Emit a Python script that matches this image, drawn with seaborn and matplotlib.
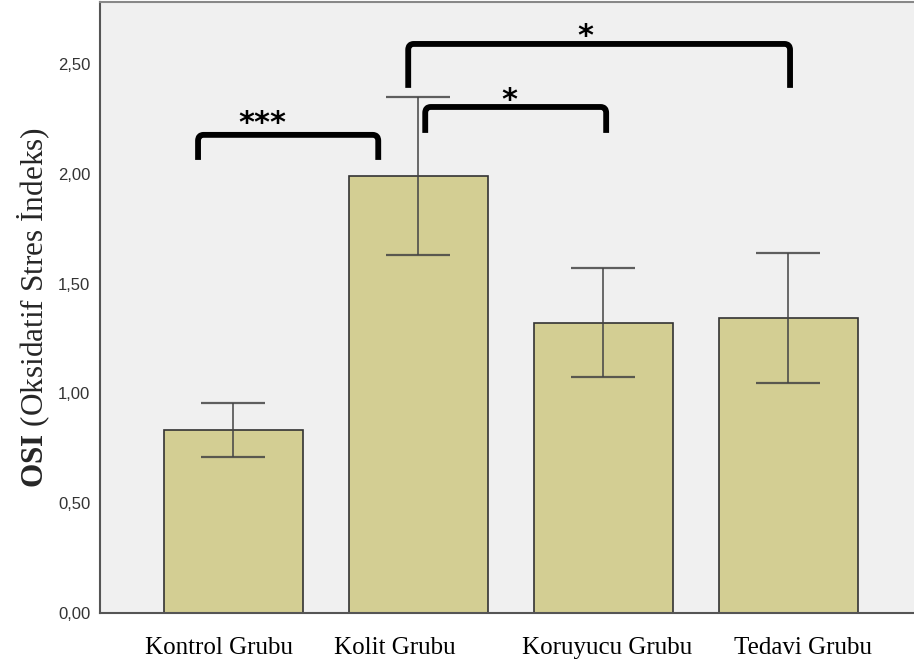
import matplotlib
matplotlib.use("Agg")
import matplotlib.pyplot as plt
import matplotlib.transforms as mtransforms
import seaborn as sns
import pandas as pd
from matplotlib.path import Path
from matplotlib.patches import PathPatch

# Group means and error bar limits for the oxidative stress index
groups = ["Kontrol Grubu", "Kolit Grubu", "Koruyucu Grubu", "Tedavi Grubu"]
osi_mean = [0.833, 1.99, 1.32, 1.343]
err_low = [0.710, 1.63, 1.075, 1.047]
err_high = [0.956, 2.35, 1.571, 1.639]
y_ticks = [0.0, 0.5, 1.0, 1.5, 2.0, 2.5]
y_tick_labels = ["0,00", "0,50", "1,00", "1,50", "2,00", "2,50"]

# Significance brackets: (left end, right end, height, leg depth)
brackets = [
    (-0.19, 0.784, 2.177, 0.114),
    (1.038, 2.016, 2.304, 0.118),
    (0.946, 3.01, 2.591, 0.20),
]
# Significance marks and where they sit above their brackets
sig_labels = ["***", "*", "*"]
sig_x = [0.157, 1.492, 1.903]
sig_y = [2.228, 2.332, 2.624]

# Horizontal nudges (points) of the group names under their ticks
label_shift = [-10, -17, 3, 11]

sns.set_theme(style="white")
plt.rcParams["mathtext.fontset"] = "custom"
plt.rcParams["mathtext.rm"] = "Liberation Serif"
plt.rcParams["mathtext.bf"] = "Liberation Serif:bold"

fig = plt.figure(figsize=(9.14, 6.63), dpi=100)
ax = fig.add_axes([100 / 914, 50 / 663, 814 / 914, 611 / 663])
ax.set_facecolor("#F0F0F0")

df = pd.DataFrame({"group": groups, "osi": osi_mean})
sns.barplot(data=df, x="group", y="osi", color="#D3CE93", saturation=1,
            width=0.75, edgecolor="#333333", linewidth=1.2, errorbar=None, ax=ax)

xs = range(len(groups))
lower = [m - lo for m, lo in zip(osi_mean, err_low)]
upper = [hi - m for m, hi in zip(osi_mean, err_high)]
ax.errorbar(xs, osi_mean, yerr=[lower, upper], fmt="none", ecolor="#444444",
            elinewidth=1.3, capsize=23, capthick=1.6, alpha=0.85)

for x0, x1, h, d in brackets:
    r = 0.03
    verts = [(x0, h - d), (x0, h - r * 0.9), (x0, h), (x0 + r, h),
             (x1 - r, h), (x1, h), (x1, h - r * 0.9), (x1, h - d)]
    codes = [Path.MOVETO, Path.LINETO, Path.CURVE3, Path.CURVE3,
             Path.LINETO, Path.CURVE3, Path.CURVE3, Path.LINETO]
    ax.add_patch(PathPatch(Path(verts, codes), fill=False, lw=4.2,
                           color="black", capstyle="butt", joinstyle="round"))

for label, lx, ly in zip(sig_labels, sig_x, sig_y):
    ax.text(lx, ly, label, ha="center", va="center", fontsize=22,
            fontweight="bold", family="DejaVu Sans", color="black")

ax.set_xlim(-0.72, 3.68)
ax.set_ylim(0, 2.782)
ax.set_yticks(y_ticks)
ax.set_yticklabels(y_tick_labels, fontsize=12, family="Liberation Sans",
                   color="#333333")
ax.set_xticks(list(xs))
ax.set_xticklabels(groups, fontsize=18, family="Liberation Serif", color="black")
ax.tick_params(axis="both", which="major", length=6, width=1.3,
               color="#555555", direction="out")
ax.tick_params(axis="x", pad=11)
ax.tick_params(axis="y", pad=1)
for lbl, dx in zip(ax.get_xticklabels(), label_shift):
    lbl.set_transform(lbl.get_transform() +
                      mtransforms.ScaledTranslation(dx / 72, 0, fig.dpi_scale_trans))
ax.set_xlabel("")
ax.set_ylabel(r"$\mathbf{OSI}$ (Oksidatif Stres İndeks)", fontsize=22.5,
              family="Liberation Serif", labelpad=4)

for side in ["left", "bottom", "top"]:
    ax.spines[side].set_visible(True)
    ax.spines[side].set_color("#555555")
    ax.spines[side].set_linewidth(1.5)
ax.spines["top"].set_color("#888888")
ax.spines["right"].set_visible(False)

fig.savefig("out.png", dpi=100, facecolor="white")
